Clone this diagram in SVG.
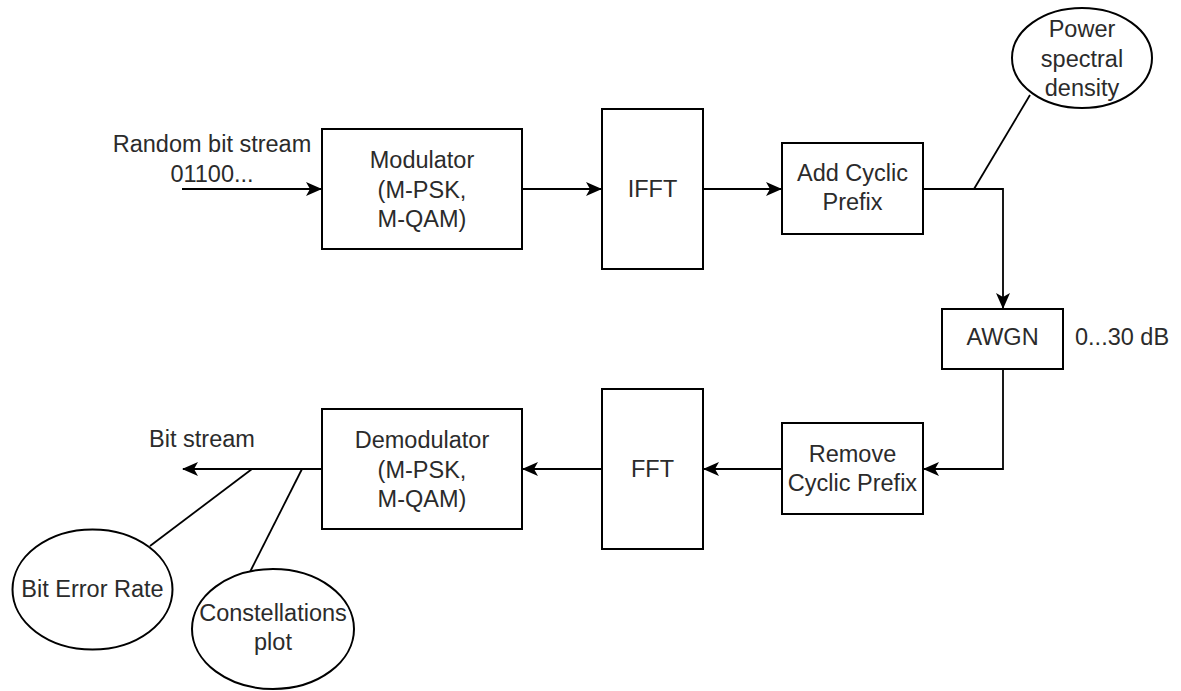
<svg xmlns="http://www.w3.org/2000/svg" width="1181" height="691" viewBox="0 0 1181 691">
<style>
.box{fill:#fff;stroke:#000;stroke-width:2}
.t{font-family:"Liberation Sans",Arial,sans-serif;font-size:23.5px;fill:#2b2b2b;text-anchor:middle}
.c{fill:none;stroke:#000;stroke-width:1.8}
</style>
<defs>
<marker id="arr" markerUnits="userSpaceOnUse" markerWidth="16" markerHeight="14" viewBox="0 0 16 14" refX="15" refY="7" orient="auto">
<path d="M0,0 L16,7 L0,14 L4,7 z" fill="#000"/>
</marker>
</defs>
<rect width="1181" height="691" fill="#fff"/>
<g id="connectors">
<line class="c" x1="182" y1="189" x2="321" y2="189" marker-end="url(#arr)"/>
<line class="c" x1="522" y1="189" x2="601" y2="189" marker-end="url(#arr)"/>
<line class="c" x1="703" y1="189" x2="781" y2="189" marker-end="url(#arr)"/>
<polyline class="c" points="923,189 1003,189 1003,308" marker-end="url(#arr)"/>
<line class="c" x1="974" y1="189" x2="1030" y2="95"/>
<polyline class="c" points="1003,369 1003,469 924,469" marker-end="url(#arr)"/>
<line class="c" x1="782" y1="469" x2="704" y2="469" marker-end="url(#arr)"/>
<line class="c" x1="602" y1="469" x2="523" y2="469" marker-end="url(#arr)"/>
<line class="c" x1="322" y1="469" x2="183" y2="469" marker-end="url(#arr)"/>
<line class="c" x1="252" y1="469" x2="150" y2="546"/>
<line class="c" x1="302" y1="469" x2="250" y2="572"/>
</g>
<g id="input-label">
<text class="t" x="212" y="152">Random bit stream</text>
<text class="t" x="212" y="182">01100...</text>
</g>
<g id="modulator">
<rect class="box" x="322" y="129" width="200" height="120"/>
<text class="t" x="422" y="168">Modulator</text>
<text class="t" x="422" y="198">(M-PSK,</text>
<text class="t" x="422" y="227">M-QAM)</text>
</g>
<g id="ifft">
<rect class="box" x="602" y="109" width="101" height="160"/>
<text class="t" x="652.5" y="197">IFFT</text>
</g>
<g id="add-cp">
<rect class="box" x="782" y="143" width="141" height="91"/>
<text class="t" x="852.5" y="181">Add Cyclic</text>
<text class="t" x="852.5" y="210">Prefix</text>
</g>
<g id="psd">
<ellipse class="box" cx="1082" cy="58" rx="70" ry="50"/>
<text class="t" x="1082" y="37">Power</text>
<text class="t" x="1082" y="67">spectral</text>
<text class="t" x="1082" y="96">density</text>
</g>
<g id="awgn">
<rect class="box" x="942" y="309" width="121" height="60"/>
<text class="t" x="1002.5" y="345">AWGN</text>
</g>
<g id="snr-label">
<text class="t" x="1075" y="345" style="text-anchor:start">0...30 dB</text>
</g>
<g id="remove-cp">
<rect class="box" x="782" y="423" width="141" height="91"/>
<text class="t" x="852.5" y="462">Remove</text>
<text class="t" x="852.5" y="491">Cyclic Prefix</text>
</g>
<g id="fft">
<rect class="box" x="602" y="389" width="101" height="160"/>
<text class="t" x="652.5" y="477">FFT</text>
</g>
<g id="demodulator">
<rect class="box" x="322" y="409" width="200" height="120"/>
<text class="t" x="422" y="448">Demodulator</text>
<text class="t" x="422" y="478">(M-PSK,</text>
<text class="t" x="422" y="507">M-QAM)</text>
</g>
<g id="output-label">
<text class="t" x="202" y="447">Bit stream</text>
</g>
<g id="ber">
<ellipse class="box" cx="92.5" cy="589.5" rx="80" ry="60"/>
<text class="t" x="92.5" y="597">Bit Error Rate</text>
</g>
<g id="constellation">
<ellipse class="box" cx="273" cy="629" rx="81" ry="60"/>
<text class="t" x="273" y="621">Constellations</text>
<text class="t" x="273" y="650">plot</text>
</g>
</svg>
